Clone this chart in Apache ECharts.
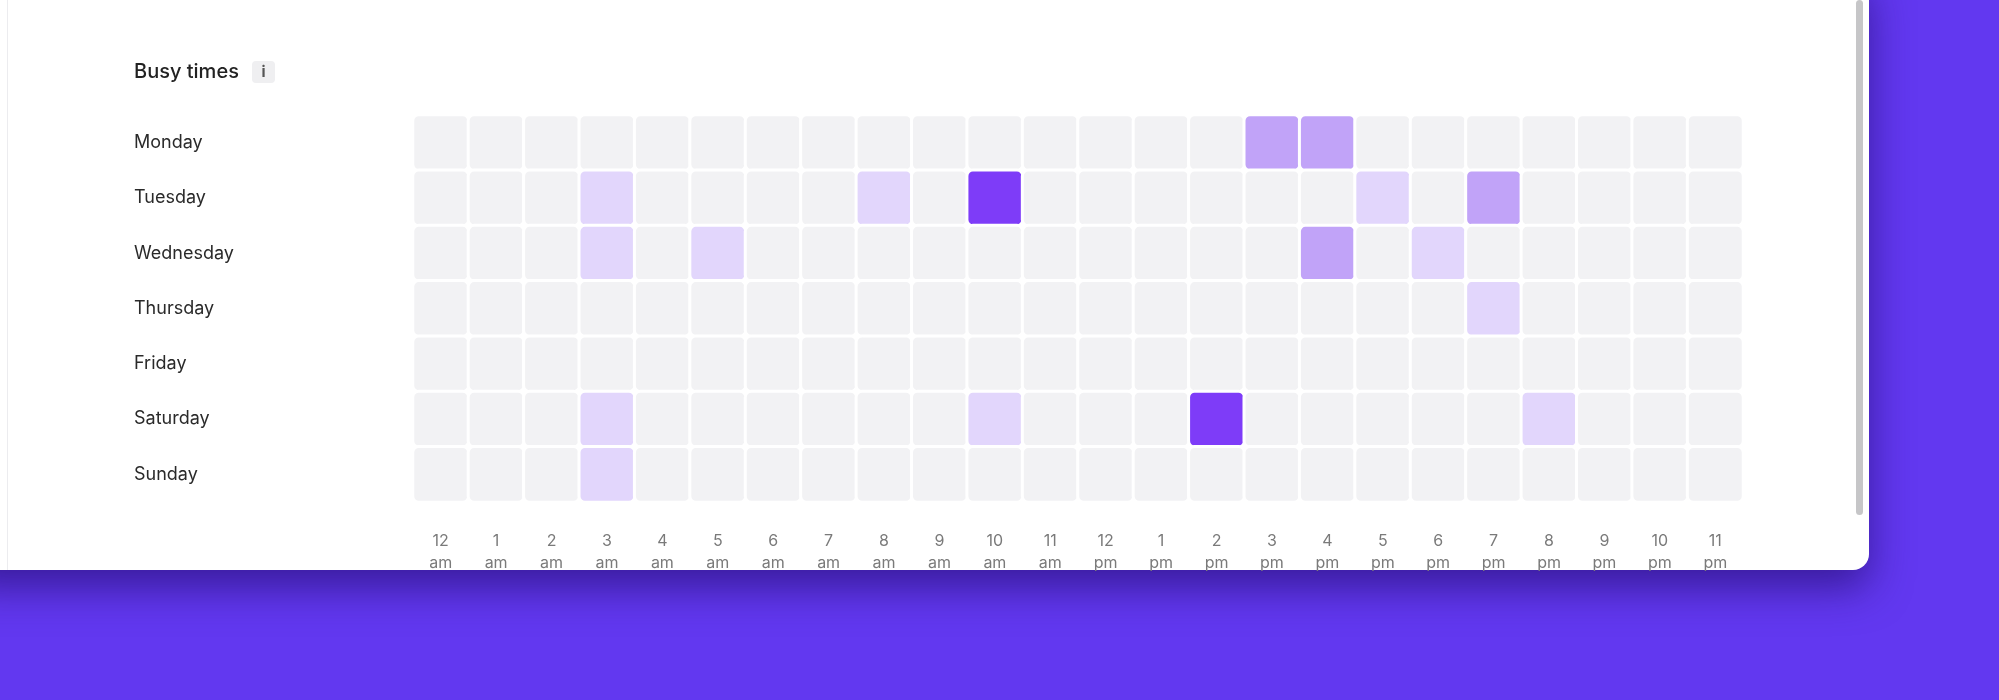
<!DOCTYPE html>
<html><head><meta charset="utf-8">
<script src="https://cdn.jsdelivr.net/npm/echarts@6/dist/echarts.min.js"></script>
<style>html,body{margin:0;padding:0;background:#6238F0}#c{width:1999px;height:700px}</style>
</head><body><div id="c"></div>
<script>
const days = ['Monday','Tuesday','Wednesday','Thursday','Friday','Saturday','Sunday'];
const hours = ['12\nam','1\nam','2\nam','3\nam','4\nam','5\nam','6\nam','7\nam','8\nam','9\nam','10\nam','11\nam',
               '12\npm','1\npm','2\npm','3\npm','4\npm','5\npm','6\npm','7\npm','8\npm','9\npm','10\npm','11\npm'];
// busy level per day: [hourIndex, level] (1 light, 2 medium, 3 high); others 0
const monday    = [[15,2],[16,2]];
const tuesday   = [[3,1],[8,1],[10,3],[17,1],[19,2]];
const wednesday = [[3,1],[5,1],[16,2],[18,1]];
const thursday  = [[19,1]];
const friday    = [];
const saturday  = [[3,1],[10,1],[14,3],[20,1]];
const sunday    = [[3,1]];
const busy = [monday,tuesday,wednesday,thursday,friday,saturday,sunday];

const data = [];
days.forEach((d,di)=>{
  const m = {}; busy[di].forEach(([h,l])=>m[h]=l);
  hours.forEach((h,hi)=>data.push([hi,di,m[hi]||0]));
});

const chart = echarts.init(document.getElementById('c'));
chart.setOption({
  backgroundColor:'#6238F0',
  textStyle:{fontFamily:'Inter'},
  grid:{left:413,right:256,top:115,height:387},
  xAxis:{type:'category',data:hours,position:'bottom',axisLine:{show:false},axisTick:{show:false},splitLine:{show:false},
    axisLabel:{color:'#7a7a7a',fontSize:16,lineHeight:22,margin:28,interval:0}},
  yAxis:{type:'category',data:days,inverse:true,axisLine:{show:false},axisTick:{show:false},splitLine:{show:false},
    axisLabel:{color:'#2a2a2a',fontSize:18,align:'left',margin:279}},
  visualMap:{show:false,type:'piecewise',dimension:2,pieces:[
    {value:0,color:'#F2F2F4'},{value:1,color:'#E2D6FC'},{value:2,color:'#C1A3F8'},{value:3,color:'#7E3CF8'}]},
  graphic:[
    {type:'rect',z:-10,shape:{x:-40,y:-30,width:1909,height:600,r:16},style:{fill:'#fff',shadowBlur:40,shadowColor:'rgba(40,15,120,0.7)',shadowOffsetY:18}},
    {type:'rect',z:-9,shape:{x:7,y:0,width:1,height:570},style:{fill:'#ececef'}},
    {type:'rect',z:-5,shape:{x:1856,y:0,width:7,height:515,r:4},style:{fill:'#c6c6c8'}},
    {type:'text',z:-5,x:134,y:72,style:{text:'Busy times',fontFamily:'Inter',fontSize:20,fontWeight:500,fill:'#222',verticalAlign:'middle'}},
    {type:'rect',z:-5,shape:{x:252,y:61,width:23,height:22,r:4},style:{fill:'#efeff1'}},
    {type:'text',z:-4,x:263.5,y:72,style:{text:'i',fontFamily:'Inter',fontSize:15,fontWeight:700,fill:'#555',align:'center',verticalAlign:'middle'}}
  ],
  series:[{type:'heatmap',data:data,itemStyle:{borderColor:'#fff',borderWidth:3,borderRadius:6},emphasis:{disabled:true}}]
});
</script></body></html>
